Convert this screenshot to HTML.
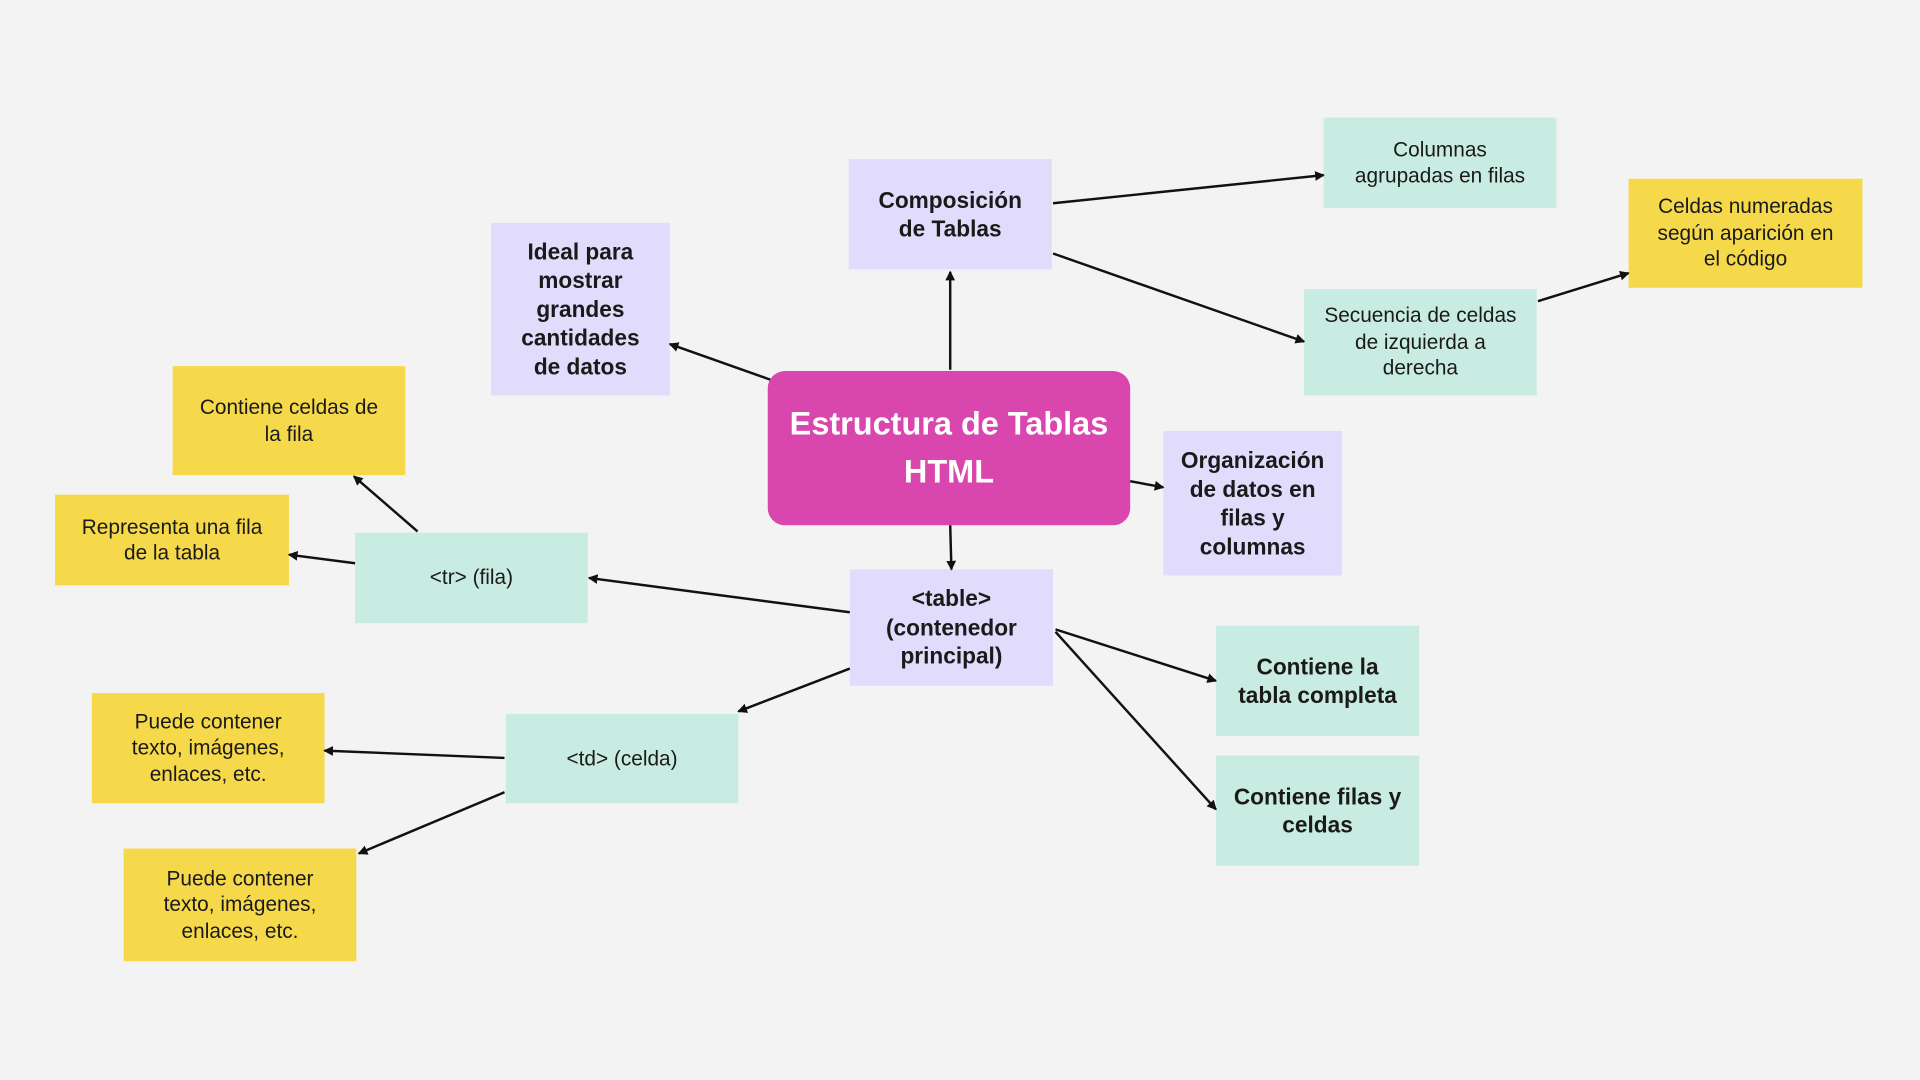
<!DOCTYPE html>
<html><head><meta charset="utf-8"><style>
html,body{margin:0;padding:0;width:1920px;height:1080px;overflow:hidden;background:#f3f3f3;}
#w{position:absolute;left:0;top:0;width:1568px;height:882px;transform:scale(1.22449);transform-origin:0 0;font-family:"Liberation Sans",sans-serif;}
.n{position:absolute;display:flex;align-items:center;justify-content:center;text-align:center;color:#1a1a1a;font-size:17px;line-height:21.5px;box-sizing:border-box;padding:0 2px;white-space:nowrap;}
.p{background:#e1dcfb;font-weight:bold;font-size:18.5px;line-height:23.5px;}
.t{background:#c9ece2;}
.y{background:#f6d94b;}
.b{font-weight:bold;font-size:18.5px;line-height:23.5px;}
svg{position:absolute;left:0;top:0;}
</style></head><body><div id="w">
<div class="n" style="left:627px;top:303px;width:296px;height:126px;background:#d946ae;border-radius:14px;color:#fff;font-weight:bold;font-size:26.5px;line-height:39px;">Estructura de Tablas<br>HTML</div>
<div class="n p" style="left:693px;top:130px;width:166px;height:90px;">Composición<br>de Tablas</div>
<div class="n p" style="left:401px;top:182px;width:146px;height:141px;">Ideal para<br>mostrar<br>grandes<br>cantidades<br>de datos</div>
<div class="n t" style="left:1081px;top:96px;width:190px;height:74px;">Columnas<br>agrupadas en filas</div>
<div class="n t" style="left:1065px;top:236px;width:190px;height:87px;">Secuencia de celdas<br>de izquierda a<br>derecha</div>
<div class="n y" style="left:1330px;top:146px;width:191px;height:89px;">Celdas numeradas<br>según aparición en<br>el código</div>
<div class="n p" style="left:950px;top:352px;width:146px;height:118px;">Organización<br>de datos en<br>filas y<br>columnas</div>
<div class="n p" style="left:694px;top:465px;width:166px;height:95px;">&lt;table&gt;<br>(contenedor<br>principal)</div>
<div class="n t b" style="left:993px;top:511px;width:166px;height:90px;">Contiene la<br>tabla completa</div>
<div class="n t b" style="left:993px;top:617px;width:166px;height:90px;">Contiene filas y<br>celdas</div>
<div class="n t" style="left:290px;top:435px;width:190px;height:74px;">&lt;tr&gt; (fila)</div>
<div class="n y" style="left:141px;top:299px;width:190px;height:89px;">Contiene celdas de<br>la fila</div>
<div class="n y" style="left:45px;top:404px;width:191px;height:74px;">Representa una fila<br>de la tabla</div>
<div class="n t" style="left:413px;top:583px;width:190px;height:73px;">&lt;td&gt; (celda)</div>
<div class="n y" style="left:75px;top:566px;width:190px;height:90px;">Puede contener<br>texto, imágenes,<br>enlaces, etc.</div>
<div class="n y" style="left:101px;top:693px;width:190px;height:92px;">Puede contener<br>texto, imágenes,<br>enlaces, etc.</div>
<svg width="1568" height="882"><defs><marker id="a" markerWidth="8" markerHeight="8" refX="7" refY="4" orient="auto" markerUnits="userSpaceOnUse"><path d="M0,0 L8,4 L0,8 z" fill="#111"/></marker></defs>
<g stroke="#111" stroke-width="2" fill="none" marker-end="url(#a)">
<line x1="776" y1="302" x2="776" y2="222"/>
<line x1="629" y1="310" x2="547" y2="281"/>
<line x1="860" y1="166" x2="1081" y2="143"/>
<line x1="860" y1="207" x2="1065" y2="279"/>
<line x1="1256" y1="246" x2="1330" y2="223"/>
<line x1="923" y1="393" x2="950" y2="398"/>
<line x1="776" y1="429" x2="777" y2="465"/>
<line x1="694" y1="500" x2="481" y2="472"/>
<line x1="341" y1="434" x2="289" y2="389"/>
<line x1="290" y1="460" x2="236" y2="453"/>
<line x1="862" y1="514" x2="993" y2="556"/>
<line x1="862" y1="516" x2="993" y2="661"/>
<line x1="694" y1="546" x2="603" y2="581"/>
<line x1="412" y1="619" x2="265" y2="613"/>
<line x1="412" y1="647" x2="293" y2="697"/>
</g></svg>
</div></body></html>
